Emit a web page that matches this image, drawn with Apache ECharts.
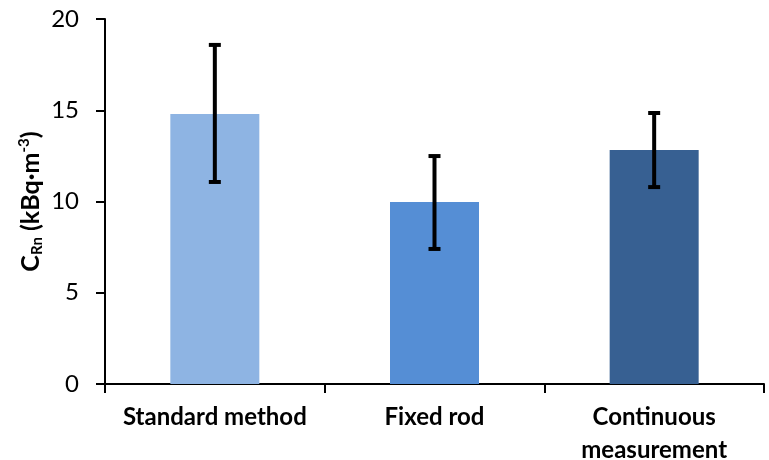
<!DOCTYPE html>
<html><head><meta charset="utf-8">
<script src="https://cdn.jsdelivr.net/npm/echarts@6/dist/echarts.min.js"></script>
<style>html,body{margin:0;padding:0;background:#fff}#c{width:769px;height:460px}</style>
</head><body><div id="c"></div>
<script>
var categories = ['Standard method', 'Fixed rod', 'Continuous\nmeasurement'];
var means = [14.8, 9.97, 12.82];
var errLow = [11.07, 7.40, 10.79];
var errHigh = [18.58, 12.49, 14.85];
var barColors = ['#8EB4E3', '#558ED5', '#376092'];
var yTicks = [0, 5, 10, 15, 20];

var chart = echarts.init(document.getElementById('c'));
var font = 'Lato, "Open Sans", sans-serif';
chart.setOption({
  animation: false,
  grid: {left: 105, right: 5, top: 19, bottom: 76, outerBoundsMode: 'none', containLabel: false},
  xAxis: {
    type: 'category', data: categories,
    axisLine: {lineStyle: {color: '#000', width: 2}},
    axisTick: {show: true, length: 9, lineStyle: {color: '#000', width: 2}, alignWithLabel: false},
    axisLabel: {color: '#000', fontFamily: font, fontWeight: 'bold', fontSize: 24, margin: 17, lineHeight: 33, interval: 0}
  },
  yAxis: {
    type: 'value', min: yTicks[0], max: yTicks[yTicks.length - 1], interval: 5,
    axisLine: {show: true, lineStyle: {color: '#000', width: 2}},
    axisTick: {show: true, length: 9, lineStyle: {color: '#000', width: 2}},
    splitLine: {show: false},
    axisLabel: {color: '#000', fontFamily: font, fontSize: 24, margin: 26},
    name: '{b|C}{s|Rn}{b| (kBq·m}{p|-3}{b|)}',
    nameLocation: 'middle', nameRotate: 90, nameGap: 60, nameMoveOverlap: false,
    nameTextStyle: {
      rich: {
        b: {fontFamily: font, fontWeight: 'bold', fontSize: 25, color: '#000'},
        s: {fontFamily: font, fontWeight: 'bold', fontSize: 15, color: '#000', verticalAlign: 'bottom', padding: [13, 0, 0, 0]},
        p: {fontFamily: font, fontWeight: 'bold', fontSize: 15, color: '#000', verticalAlign: 'top', padding: [0, 0, 11, 0]}
      }
    }
  },
  series: [{
    type: 'bar', barWidth: 89,
    data: means.map(function (v, i) { return {value: v, itemStyle: {color: barColors[i]}}; })
  }, {
    type: 'custom',
    data: categories.map(function (c, i) { return [i, errLow[i], errHigh[i]]; }),
    renderItem: function (params, api) {
      var lo = api.coord([api.value(0), api.value(1)]);
      var hi = api.coord([api.value(0), api.value(2)]);
      var x = lo[0], hw = 6;
      var st = {stroke: '#000', lineWidth: 4};
      return {type: 'group', children: [
        {type: 'line', shape: {x1: x, y1: hi[1], x2: x, y2: lo[1]}, style: st},
        {type: 'line', shape: {x1: x - hw, y1: hi[1], x2: x + hw, y2: hi[1]}, style: st},
        {type: 'line', shape: {x1: x - hw, y1: lo[1], x2: x + hw, y2: lo[1]}, style: st}
      ]};
    },
    z: 10
  }]
});
</script></body></html>
